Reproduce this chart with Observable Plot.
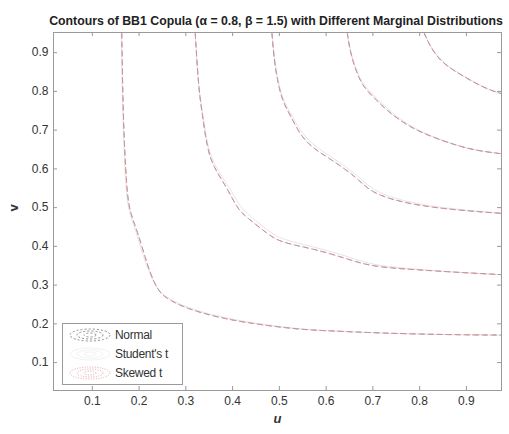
<!DOCTYPE html>
<html>
<head>
<meta charset="utf-8">
<script src="https://cdn.jsdelivr.net/npm/d3@7"></script>
<script src="https://cdn.jsdelivr.net/npm/@observablehq/plot@0.6"></script>
<style>
  html, body { margin: 0; padding: 0; background: #fff; }
  #wrap { position: relative; width: 509px; height: 434px; font-family: "Liberation Sans", Arial, sans-serif; }
  #legend { position: absolute; left: 62px; top: 323px; width: 121px; height: 62px; border: 1px solid #9a9a9a; background: #fff; box-sizing: border-box; }
  #legend .row { position: absolute; left: 0; height: 18px; width: 120px; }
  #legend .lbl { position: absolute; left: 52px; top: 1px; font-size: 12px; color: #333; letter-spacing: -0.3px; }
  #legend svg { position: absolute; left: 4px; top: 0; }
</style>
</head>
<body>
<div id="wrap"></div>
<script>
const title = "Contours of BB1 Copula (\u03b1 = 0.8, \u03b2 = 1.5) with Different Marginal Distributions";
const uTicks = [0.1, 0.2, 0.3, 0.4, 0.5, 0.6, 0.7, 0.8, 0.9];
const vTicks = [0.1, 0.2, 0.3, 0.4, 0.5, 0.6, 0.7, 0.8, 0.9];
const distributions = ["Normal", "Student's t", "Skewed t"];

// contour levels (Normal and Skewed t follow these points)
const level1 = [[0.163,0.952],[0.166,0.725],[0.173,0.557],[0.179,0.492],[0.196,0.441],[0.217,0.355],[0.230,0.312],[0.245,0.278],[0.267,0.260],[0.303,0.239],[0.367,0.217],[0.438,0.201],[0.545,0.185],[0.609,0.182],[0.716,0.176],[0.859,0.172],[0.975,0.171]];
const level2 = [[0.320,0.952],[0.327,0.810],[0.335,0.743],[0.345,0.656],[0.359,0.604],[0.388,0.552],[0.410,0.497],[0.431,0.474],[0.474,0.433],[0.502,0.410],[0.573,0.394],[0.645,0.368],[0.695,0.348],[0.787,0.340],[0.894,0.332],[0.975,0.327]];
const level3 = [[0.484,0.952],[0.489,0.879],[0.496,0.828],[0.506,0.776],[0.524,0.737],[0.545,0.686],[0.573,0.652],[0.609,0.626],[0.667,0.577],[0.695,0.539],[0.759,0.514],[0.844,0.497],[0.975,0.485]];
const level4 = [[0.645,0.952],[0.652,0.897],[0.666,0.846],[0.680,0.810],[0.709,0.776],[0.737,0.743],[0.780,0.707],[0.829,0.681],[0.880,0.660],[0.923,0.647],[0.975,0.639]];
const level5 = [[0.809,0.952],[0.823,0.914],[0.844,0.879],[0.872,0.854],[0.909,0.828],[0.944,0.806],[0.975,0.794]];

// Student's t contours (slightly off at the knees)
const student1 = [[0.162,0.952],[0.165,0.725],[0.171,0.557],[0.177,0.492],[0.193,0.441],[0.213,0.358],[0.228,0.316],[0.243,0.283],[0.265,0.264],[0.300,0.243],[0.365,0.220],[0.438,0.203],[0.545,0.186],[0.609,0.182],[0.716,0.176],[0.859,0.172],[0.975,0.171]];
const student2 = [[0.320,0.952],[0.327,0.810],[0.336,0.743],[0.347,0.656],[0.362,0.606],[0.392,0.556],[0.415,0.502],[0.436,0.480],[0.476,0.440],[0.504,0.418],[0.570,0.400],[0.645,0.375],[0.695,0.352],[0.787,0.341],[0.894,0.332],[0.975,0.327]];
const student3 = [[0.484,0.952],[0.490,0.879],[0.497,0.828],[0.508,0.776],[0.527,0.737],[0.549,0.690],[0.577,0.657],[0.613,0.630],[0.668,0.583],[0.698,0.545],[0.759,0.518],[0.844,0.499],[0.975,0.486]];
const student4 = [[0.645,0.952],[0.653,0.897],[0.667,0.846],[0.682,0.812],[0.711,0.779],[0.739,0.746],[0.781,0.709],[0.829,0.682],[0.880,0.660],[0.923,0.647],[0.975,0.639]];
const student5 = [[0.809,0.952],[0.824,0.914],[0.845,0.880],[0.873,0.855],[0.909,0.829],[0.944,0.806],[0.975,0.794]];

const baseLevels = [level1, level2, level3, level4, level5];
const studentLevels = [student1, student2, student3, student4, student5];

function rows(levels, dist) {
  const out = [];
  levels.forEach((pts, i) => pts.forEach(([u, v]) => out.push({u, v, level: i + 1, dist})));
  return out;
}
const normalRows = rows(baseLevels, distributions[0]);
const studentRows = rows(studentLevels, distributions[1]);
const skewedRows = rows(baseLevels, distributions[2]);

const frameH = 434 - 32 - 44;
const frameW = 509 - 53 - 8;

const chart = Plot.plot({
  width: 509,
  height: 434,
  marginLeft: 53,
  marginRight: 8,
  marginTop: 32,
  marginBottom: 44,
  style: {fontFamily: "'Liberation Sans', Arial, sans-serif", fontSize: "12px", color: "#333", background: "#fff"},
  x: {domain: [0.017, 0.975], label: null},
  y: {domain: [0.028, 0.952], label: null},
  marks: [
    Plot.line(studentRows, {x: "u", y: "v", z: "level", stroke: "#e6e6e6", strokeWidth: 1, curve: "basis"}),
    Plot.line(normalRows, {x: "u", y: "v", z: "level", stroke: "#9a9a9a", strokeWidth: 0.9, strokeDasharray: "5,4", curve: "basis"}),
    Plot.line(skewedRows, {x: "u", y: "v", z: "level", stroke: "#e48a90", strokeWidth: 0.9, strokeDasharray: "4,5", strokeDashoffset: 7, curve: "basis"}),
    Plot.frame({stroke: "#9a9a9a"}),
    Plot.tickX(uTicks, {x: d => d, stroke: "#9a9a9a", insetTop: frameH - 4}),
    Plot.tickX(uTicks, {x: d => d, stroke: "#9a9a9a", insetBottom: frameH - 4}),
    Plot.tickY(vTicks, {y: d => d, stroke: "#9a9a9a", insetRight: frameW - 4}),
    Plot.tickY(vTicks, {y: d => d, stroke: "#9a9a9a", insetLeft: frameW - 4}),
    Plot.axisX(uTicks, {tickSize: 0, tickPadding: 6, fontSize: 12, fill: "#333", label: null, tickFormat: d => d.toFixed(1)}),
    Plot.axisY(vTicks, {tickSize: 0, tickPadding: 5, fontSize: 12, fill: "#333", label: null, tickFormat: d => d.toFixed(1)}),
    Plot.text(["u"], {frameAnchor: "bottom", dy: 32, fontStyle: "italic", fontWeight: "bold", fontSize: 13, fill: "#333"}),
    Plot.text(["v"], {frameAnchor: "left", dx: -40, rotate: -90, fontWeight: "bold", fontSize: 13, fill: "#333"}),
    Plot.text([title], {frameAnchor: "top", dy: -16, dx: -1.5, fontWeight: "bold", fontSize: 12.3, fill: "#222", letterSpacing: "0px"})
  ]
});

const wrap = document.getElementById("wrap");
wrap.appendChild(chart);

// legend overlay
const legend = document.createElement("div");
legend.id = "legend";
const items = [
  {name: distributions[0], stroke: "#8f8f8f", dash: "2,2", top: 3},
  {name: distributions[1], stroke: "#f2f2f2", dash: null, top: 22},
  {name: distributions[2], stroke: "#eaa3a8", dash: "1,1.5", top: 41}
];
for (const it of items) {
  const row = document.createElement("div");
  row.className = "row";
  row.style.top = it.top + "px";
  const ns = "http://www.w3.org/2000/svg";
  const svg = document.createElementNS(ns, "svg");
  svg.setAttribute("width", "46");
  svg.setAttribute("height", "16");
  for (const [rx, ry] of [[20, 6], [13, 4], [6, 2]]) {
    const e = document.createElementNS(ns, "ellipse");
    e.setAttribute("cx", "23"); e.setAttribute("cy", "8");
    e.setAttribute("rx", rx); e.setAttribute("ry", ry);
    e.setAttribute("fill", "none"); e.setAttribute("stroke", it.stroke);
    if (it.dash) e.setAttribute("stroke-dasharray", it.dash);
    svg.appendChild(e);
  }
  row.appendChild(svg);
  const lbl = document.createElement("span");
  lbl.className = "lbl";
  lbl.textContent = it.name;
  row.appendChild(lbl);
  legend.appendChild(row);
}
wrap.appendChild(legend);
</script>
</body>
</html>
